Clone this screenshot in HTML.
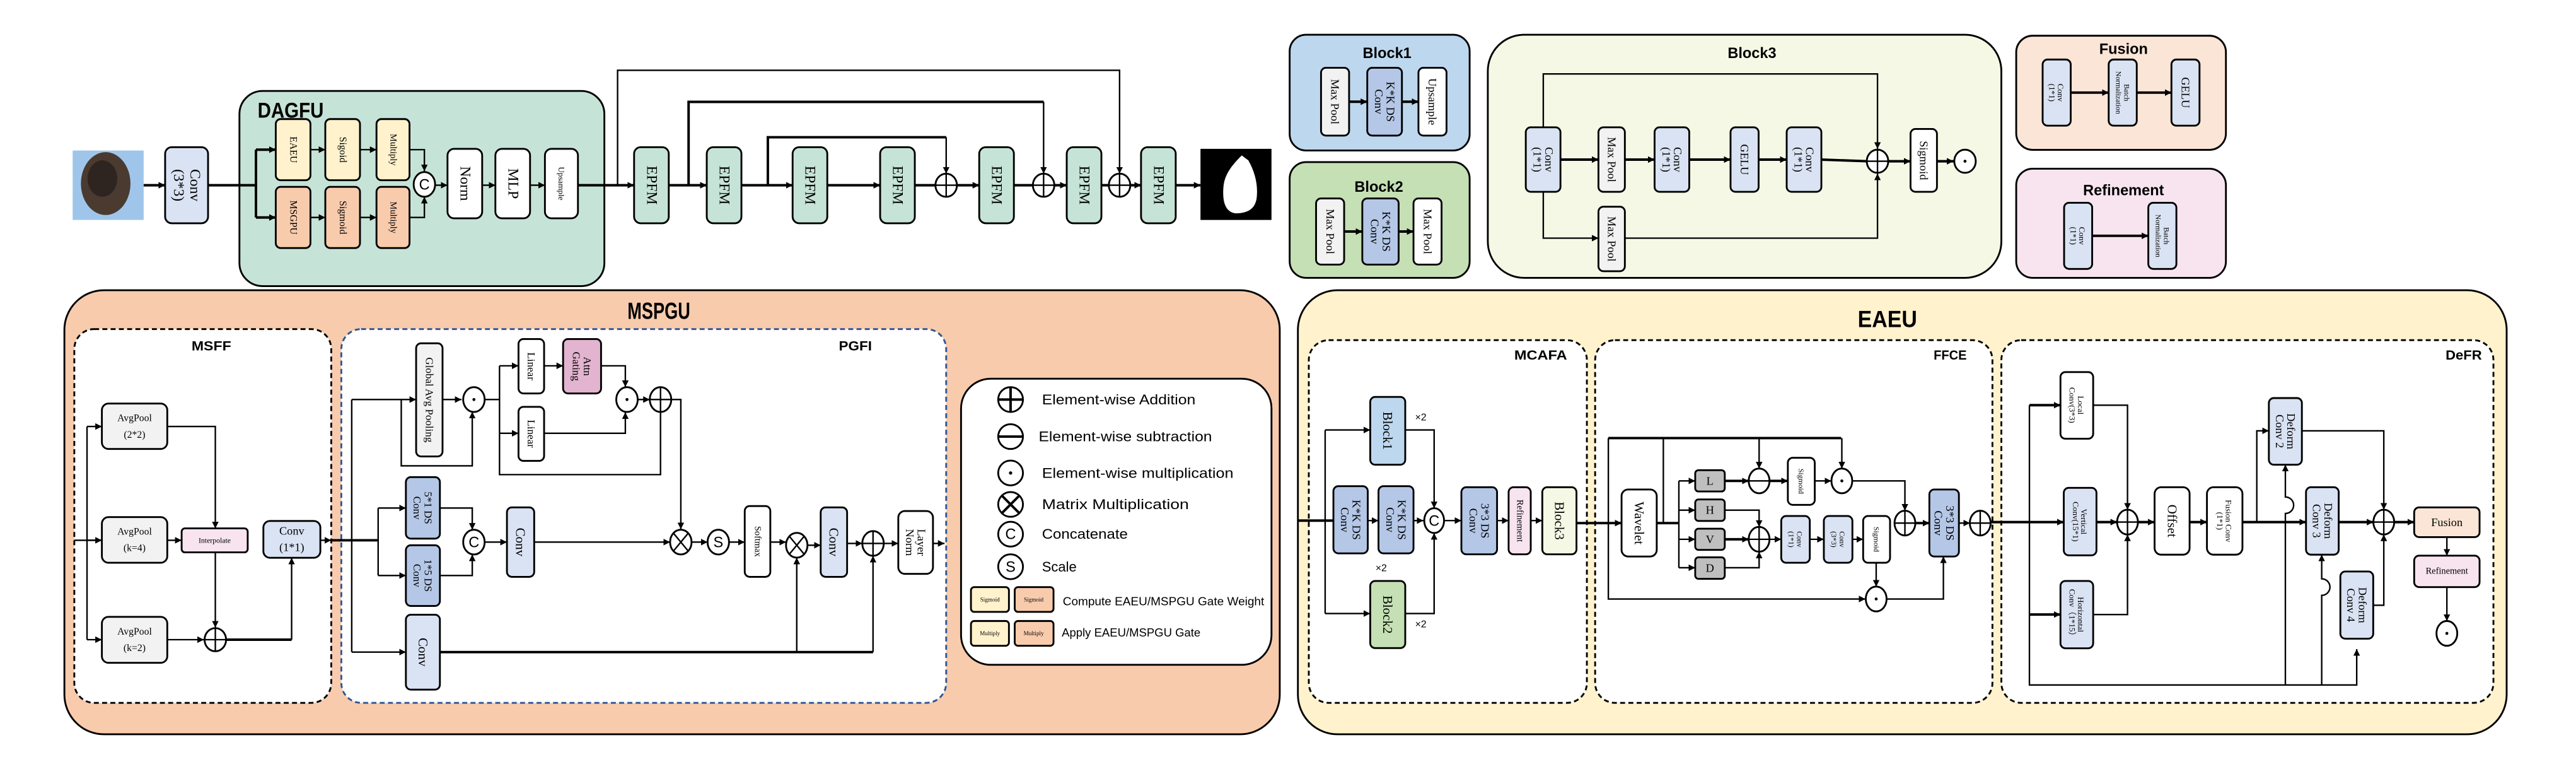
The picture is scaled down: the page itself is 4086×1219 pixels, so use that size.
<!DOCTYPE html>
<html><head><meta charset="utf-8"><style>
html,body{margin:0;padding:0;background:#fff}
svg{display:block}
.t{font-family:"Liberation Serif",serif;text-anchor:middle;dominant-baseline:central;fill:#000}
.h{font-family:"Liberation Sans",sans-serif;font-weight:bold;text-anchor:middle;dominant-baseline:central;fill:#000}
.s{font-family:"Liberation Sans",sans-serif;dominant-baseline:central;fill:#000}
.b{stroke:#000;stroke-width:1.1}
.l{stroke:#000;stroke-width:0.9;fill:none}
.L{stroke:#000;stroke-width:1.5;fill:none}
</style></head><body>
<svg width="4086" height="1219" viewBox="0 0 1560 465" preserveAspectRatio="none" xmlns="http://www.w3.org/2000/svg">
<defs>
<marker id="a" viewBox="0 0 10 10" refX="10" refY="5" markerWidth="4" markerHeight="4" markerUnits="userSpaceOnUse" orient="auto"><path d="M0,0L10,5L0,10z" fill="#000"/></marker>
</defs>

<!-- ================= TOP ROW ================= -->
<rect x="44" y="91" width="43" height="42" fill="#9fc6ea"/>
<ellipse cx="64" cy="111" rx="15" ry="19" fill="#4a3a30"/>
<ellipse cx="62" cy="108" rx="9" ry="11" fill="#2e2520"/>

<rect x="145" y="55" width="221" height="118" rx="14" fill="#c6e3d7" class="b"/>
<text class="h" x="176" y="67" font-size="13" textLength="40" lengthAdjust="spacingAndGlyphs">DAGFU</text>

<path class="L" d="M87,112H100" marker-end="url(#a)"/>
<rect x="100" y="89" width="26" height="46" rx="4" fill="#dae3f3" class="b"/>
<text class="t" font-size="9" transform="translate(113 112) rotate(90)"><tspan x="0" dy="-5">Conv</tspan><tspan x="0" dy="10">(3*3)</tspan></text>
<path class="L" d="M126,112H145"/>
<path class="L" d="M145,112H155M155,90.5V131.5"/>
<path class="L" d="M155,90.5H167" marker-end="url(#a)"/>
<path class="L" d="M155,131.5H167" marker-end="url(#a)"/>

<rect x="167" y="72" width="21" height="37" rx="3" fill="#fff2cc" class="b"/>
<text class="t" font-size="6" transform="translate(177.5 90.5) rotate(90)">EAEU</text>
<rect x="197" y="72" width="21" height="37" rx="3" fill="#fff2cc" class="b"/>
<text class="t" font-size="6" transform="translate(207.5 90.5) rotate(90)">Sigoid</text>
<rect x="228" y="72" width="20" height="37" rx="3" fill="#fff2cc" class="b"/>
<text class="t" font-size="5.5" transform="translate(238 90.5) rotate(90)">Multiply</text>
<rect x="167" y="113" width="21" height="37" rx="3" fill="#f8cbad" class="b"/>
<text class="t" font-size="6" transform="translate(177.5 131.5) rotate(90)">MSGPU</text>
<rect x="197" y="113" width="21" height="37" rx="3" fill="#f8cbad" class="b"/>
<text class="t" font-size="6" transform="translate(207.5 131.5) rotate(90)">Sigmoid</text>
<rect x="228" y="113" width="20" height="37" rx="3" fill="#f8cbad" class="b"/>
<text class="t" font-size="5.5" transform="translate(238 131.5) rotate(90)">Multiply</text>
<path class="l" d="M188,90.5H197" marker-end="url(#a)"/><path class="l" d="M218,90.5H228" marker-end="url(#a)"/>
<path class="l" d="M188,131.5H197" marker-end="url(#a)"/><path class="l" d="M218,131.5H228" marker-end="url(#a)"/>
<path class="l" d="M248,90.5H257V103.5" marker-end="url(#a)"/>
<path class="l" d="M248,131.5H257V119" marker-end="url(#a)"/>
<ellipse cx="257" cy="111.5" rx="6.5" ry="7.5" fill="#fff" class="b"/>
<text class="s" x="257" y="111.5" font-size="9" text-anchor="middle">C</text>
<path class="l" d="M263.5,112H271" marker-end="url(#a)"/>
<rect x="271" y="90" width="21" height="42" rx="4" fill="#fff" class="b"/>
<text class="t" font-size="9" transform="translate(281.5 111) rotate(90)">Norm</text>
<path class="l" d="M292,112H300" marker-end="url(#a)"/>
<rect x="300" y="90" width="21" height="42" rx="4" fill="#fff" class="b"/>
<text class="t" font-size="9" transform="translate(310.5 111) rotate(90)">MLP</text>
<path class="l" d="M321,112H330" marker-end="url(#a)"/>
<rect x="330" y="90" width="20" height="42" rx="4" fill="#fff" class="b"/>
<text class="t" font-size="5" transform="translate(340 111) rotate(90)">Upsample</text>
<path class="L" d="M350,112H384" marker-end="url(#a)"/>

<!-- skips -->
<path class="l" d="M374,112V42.5H678V105" marker-end="url(#a)"/>
<path class="L" d="M417,112V61.6H632" /><path class="l" d="M632,61.6V105" marker-end="url(#a)"/>
<path class="L" d="M465,112V83H573"/><path class="l" d="M573,83V105" marker-end="url(#a)"/>

<g fill="#c6e3d7">
<rect x="384" y="89" width="21" height="46" rx="4" class="b"/>
<rect x="428" y="89" width="21" height="46" rx="4" class="b"/>
<rect x="480" y="89" width="21" height="46" rx="4" class="b"/>
<rect x="533" y="89" width="21" height="46" rx="4" class="b"/>
<rect x="593" y="89" width="21" height="46" rx="4" class="b"/>
<rect x="646" y="89" width="21" height="46" rx="4" class="b"/>
<rect x="691" y="89" width="21" height="46" rx="4" class="b"/>
</g>
<g class="t" font-size="9">
<text transform="translate(394.5 112) rotate(90)">EPFM</text>
<text transform="translate(438.5 112) rotate(90)">EPFM</text>
<text transform="translate(490.5 112) rotate(90)">EPFM</text>
<text transform="translate(543.5 112) rotate(90)">EPFM</text>
<text transform="translate(603.5 112) rotate(90)">EPFM</text>
<text transform="translate(656.5 112) rotate(90)">EPFM</text>
<text transform="translate(701.5 112) rotate(90)">EPFM</text>
</g>
<path class="L" d="M405,112H428" marker-end="url(#a)"/>
<path class="L" d="M449,112H480" marker-end="url(#a)"/>
<path class="L" d="M501,112H533" marker-end="url(#a)"/>
<path class="L" d="M554,112H593" marker-end="url(#a)"/>
<path class="L" d="M614,112H646" marker-end="url(#a)"/>
<path class="L" d="M667,112H691" marker-end="url(#a)"/>
<path class="L" d="M712,112H727" marker-end="url(#a)"/>
<g class="b" fill="#fff">
<ellipse cx="573" cy="112" rx="6.5" ry="7"/><ellipse cx="632" cy="112" rx="6.5" ry="7"/><ellipse cx="678" cy="112" rx="6.5" ry="7"/>
</g>
<path class="l" d="M566.5,112H579.5M573,105V119M625.5,112H638.5M632,105V119M671.5,112H684.5M678,105V119"/>
<rect x="727" y="90" width="43" height="43" fill="#000"/>
<path d="M752,94C748,98 742,104 741,112C740,122 742,128 748,129C756,129 760,126 761,120C762,112 760,104 756,97Z" fill="#fff"/>

<!-- Block1 -->
<rect x="781" y="21" width="109" height="70" rx="10" fill="#bdd7ee" class="b"/>
<text class="h" x="840" y="32" font-size="9">Block1</text>
<rect x="800" y="41" width="17" height="41" rx="3" fill="#f2f2f2" class="b"/>
<text class="t" font-size="7" transform="translate(808.5 61.5) rotate(90)">Max Pool</text>
<rect x="828" y="41" width="21" height="41" rx="3" fill="#b4c7e7" class="b"/>
<text class="t" font-size="7" transform="translate(838.5 61.5) rotate(90)"><tspan x="0" dy="-3.5">K*K DS</tspan><tspan x="0" dy="7">Conv</tspan></text>
<rect x="859" y="41" width="17" height="41" rx="3" fill="#fff" class="b"/>
<text class="t" font-size="7" transform="translate(867.5 61.5) rotate(90)">Upsample</text>
<path class="L" d="M817,61.5H828" marker-end="url(#a)"/><path class="L" d="M849,61.5H859" marker-end="url(#a)"/>

<!-- Block2 -->
<rect x="781" y="98" width="109" height="70" rx="10" fill="#c5e0b4" class="b"/>
<text class="h" x="835" y="113" font-size="9">Block2</text>
<rect x="797" y="120" width="17" height="40" rx="3" fill="#f2f2f2" class="b"/>
<text class="t" font-size="7" transform="translate(805.5 140) rotate(90)">Max Pool</text>
<rect x="825" y="120" width="22" height="40" rx="3" fill="#b4c7e7" class="b"/>
<text class="t" font-size="7" transform="translate(836 140) rotate(90)"><tspan x="0" dy="-3.5">K*K DS</tspan><tspan x="0" dy="7">Conv</tspan></text>
<rect x="856" y="120" width="17" height="40" rx="3" fill="#fff" class="b"/>
<text class="t" font-size="7" transform="translate(864.5 140) rotate(90)">Max Pool</text>
<path class="L" d="M814,140H825" marker-end="url(#a)"/><path class="L" d="M847,140H856" marker-end="url(#a)"/>

<!-- Block3 -->
<rect x="901" y="21" width="311" height="147" rx="22" fill="#f5f8e4" class="b"/>
<text class="h" x="1061" y="32" font-size="9">Block3</text>
<path class="l" d="M934.6,77V44.7H1137V90" marker-end="url(#a)"/>
<path class="l" d="M934.6,116V144H968" marker-end="url(#a)"/>
<path class="l" d="M984,144H1137V105" marker-end="url(#a)"/>
<rect x="924" y="77" width="21" height="39" rx="3" fill="#dae3f3" class="b"/>
<text class="t" font-size="7" transform="translate(934.5 96.5) rotate(90)"><tspan x="0" dy="-3.5">Conv</tspan><tspan x="0" dy="7">(1*1)</tspan></text>
<rect x="968" y="77" width="16" height="39" rx="3" fill="#f2f2f2" class="b"/>
<text class="t" font-size="7" transform="translate(976 96.5) rotate(90)">Max Pool</text>
<rect x="1002" y="77" width="21" height="39" rx="3" fill="#dae3f3" class="b"/>
<text class="t" font-size="7" transform="translate(1012.5 96.5) rotate(90)"><tspan x="0" dy="-3.5">Conv</tspan><tspan x="0" dy="7">(1*1)</tspan></text>
<rect x="1048" y="77" width="17" height="39" rx="3" fill="#dae3f3" class="b"/>
<text class="t" font-size="7" transform="translate(1056.5 96.5) rotate(90)">GELU</text>
<rect x="1082" y="77" width="21" height="39" rx="3" fill="#dae3f3" class="b"/>
<text class="t" font-size="7" transform="translate(1092.5 96.5) rotate(90)"><tspan x="0" dy="-3.5">Conv</tspan><tspan x="0" dy="7">(1*1)</tspan></text>
<rect x="968" y="125" width="16" height="39" rx="3" fill="#f2f2f2" class="b"/>
<text class="t" font-size="7" transform="translate(976 144.5) rotate(90)">Max Pool</text>
<rect x="1157" y="78" width="16" height="38" rx="3" fill="#fff" class="b"/>
<text class="t" font-size="7" transform="translate(1165 97) rotate(90)">Sigmoid</text>
<path class="L" d="M945,96.5H968" marker-end="url(#a)"/>
<path class="L" d="M984,96.5H1002" marker-end="url(#a)"/>
<path class="L" d="M1023,96.5H1048" marker-end="url(#a)"/>
<path class="L" d="M1065,96.5H1082" marker-end="url(#a)"/>
<path class="L" d="M1103,96.5L1130.5,97.5"/>
<ellipse cx="1137" cy="97.5" rx="6.5" ry="7" fill="#fff" class="b"/>
<path class="l" d="M1130.5,97.5H1143.5M1137,90.5V104.5"/>
<path class="L" d="M1143.5,97.5H1157" marker-end="url(#a)"/>
<path class="L" d="M1173,97.5H1183" marker-end="url(#a)"/>
<ellipse cx="1190" cy="97.5" rx="6.5" ry="7" fill="#fff" class="b"/>
<circle cx="1190" cy="97.5" r="0.9" fill="#000"/>

<!-- Fusion -->
<rect x="1221" y="21.6" width="127" height="69" rx="10" fill="#fbe5d6" class="b"/>
<text class="h" x="1286" y="29.5" font-size="9">Fusion</text>
<rect x="1237" y="36" width="17" height="40" rx="3" fill="#dae3f3" class="b"/>
<text class="t" font-size="5" transform="translate(1245.5 56) rotate(90)"><tspan x="0" dy="-2.5">Conv</tspan><tspan x="0" dy="5">(1*1)</tspan></text>
<rect x="1277" y="36" width="17" height="40" rx="3" fill="#dae3f3" class="b"/>
<text class="t" font-size="4.5" transform="translate(1285.5 56) rotate(90)"><tspan x="0" dy="-2.5">Batch</tspan><tspan x="0" dy="5">Normalization</tspan></text>
<rect x="1315" y="36" width="17" height="40" rx="3" fill="#dae3f3" class="b"/>
<text class="t" font-size="7" transform="translate(1323.5 56) rotate(90)">GELU</text>
<path class="L" d="M1254,56H1277" marker-end="url(#a)"/><path class="L" d="M1294,56H1315" marker-end="url(#a)"/>

<!-- Refinement -->
<rect x="1221" y="102" width="127" height="66" rx="10" fill="#f8e4ef" class="b"/>
<text class="h" x="1286" y="115" font-size="9">Refinement</text>
<rect x="1250" y="122.6" width="17" height="40" rx="3" fill="#dae3f3" class="b"/>
<text class="t" font-size="5" transform="translate(1258.5 142.6) rotate(90)"><tspan x="0" dy="-2.5">Conv</tspan><tspan x="0" dy="5">(1*1)</tspan></text>
<rect x="1301" y="122.6" width="17" height="40" rx="3" fill="#dae3f3" class="b"/>
<text class="t" font-size="4.5" transform="translate(1309.5 142.6) rotate(90)"><tspan x="0" dy="-2.5">Batch</tspan><tspan x="0" dy="5">Normalization</tspan></text>
<path class="L" d="M1267,142.6H1301" marker-end="url(#a)"/>

<!-- ================= MSPGU ================= -->
<rect x="39" y="175.5" width="736" height="268.5" rx="24" fill="#f7cbac" class="b"/>
<text class="h" x="399" y="188" font-size="14" textLength="38" lengthAdjust="spacingAndGlyphs">MSPGU</text>

<rect x="45" y="199" width="155.6" height="226" rx="12" fill="#fff" stroke="#000" stroke-width="1.1" stroke-dasharray="3,2"/>
<text class="h" x="128" y="209.5" font-size="8" textLength="24" lengthAdjust="spacingAndGlyphs">MSFF</text>
<rect x="206.7" y="199" width="366.3" height="226" rx="12" fill="#fff" stroke="#2f5597" stroke-width="1.1" stroke-dasharray="3,2"/>
<text class="h" x="518" y="209.5" font-size="8" textLength="20" lengthAdjust="spacingAndGlyphs">PGFI</text>

<!-- MSFF -->
<path class="l" d="M45,326.7H61.7M52.7,257.9V386.8"/>
<path class="l" d="M52.7,257.9H61.7" marker-end="url(#a)"/>
<path class="l" d="M52.7,386.8H61.7" marker-end="url(#a)"/>
<path class="l" d="M52.7,326.7H61.7" marker-end="url(#a)"/>
<rect x="61.7" y="244" width="39.6" height="27.5" rx="4" fill="#f2f2f2" class="b"/>
<text class="t" font-size="6" x="81.5" y="253">AvgPool</text><text class="t" font-size="6" x="81.5" y="263">(2*2)</text>
<rect x="61.7" y="312.7" width="39.6" height="27.6" rx="4" fill="#f2f2f2" class="b"/>
<text class="t" font-size="6" x="81.5" y="321.5">AvgPool</text><text class="t" font-size="6" x="81.5" y="331.5">(k=4)</text>
<rect x="61.7" y="373" width="39.6" height="27.8" rx="4" fill="#f2f2f2" class="b"/>
<text class="t" font-size="6" x="81.5" y="382">AvgPool</text><text class="t" font-size="6" x="81.5" y="392">(k=2)</text>
<path class="l" d="M101.3,257.9H130.4V319.5" marker-end="url(#a)"/>
<path class="l" d="M101.3,326.7H110" marker-end="url(#a)"/>
<rect x="110" y="319.5" width="40" height="14.5" rx="2" fill="#f8e4ef" class="b"/>
<text class="t" font-size="4.5" x="130" y="326.7">Interpolate</text>
<path class="l" d="M130.4,334V379.5" marker-end="url(#a)"/>
<path class="l" d="M101.3,386.8H123.5" marker-end="url(#a)"/>
<ellipse cx="130.4" cy="386.8" rx="6.5" ry="7" fill="#fff" class="b"/>
<path class="l" d="M124,386.8H137M130.4,379.8V393.8"/>
<path class="L" d="M137,386.8H176.6"/><path class="l" d="M176.6,386.8V337.3" marker-end="url(#a)"/>
<rect x="159.5" y="315" width="34.5" height="22.3" rx="4" fill="#dae3f3" class="b"/>
<text class="t" font-size="7" x="176.7" y="321">Conv</text><text class="t" font-size="7" x="176.7" y="331">(1*1)</text>
<path class="l" d="M194,326.7H200.6" marker-end="url(#a)"/>

<!-- PGFI -->
<path class="L" d="M200.6,326.7H229"/>
<path class="l" d="M213,241.6V394.3"/>
<path class="l" d="M213,241.6H252" marker-end="url(#a)"/>
<rect x="252" y="207.6" width="16" height="68.4" rx="3" fill="#f2f2f2" class="b"/>
<text class="t" font-size="6.5" transform="translate(260 241.8) rotate(90)">Global Avg Pooling</text>
<path class="l" d="M243,241.6V281.7H286V249" marker-end="url(#a)"/>
<path class="l" d="M268,241.6H279.5" marker-end="url(#a)"/>
<ellipse cx="287" cy="241.6" rx="6.5" ry="7.5" fill="#fff" class="b"/><circle cx="287" cy="241.6" r="0.9" fill="#000"/>
<path class="l" d="M293.5,241.6H302.5M302.5,221.2V287H400V249"/>
<path class="l" d="M302.5,221.2H314" marker-end="url(#a)"/>
<path class="l" d="M302.5,262H314" marker-end="url(#a)"/>
<rect x="314" y="205" width="15.5" height="32.9" rx="3" fill="#fff" class="b"/>
<text class="t" font-size="6.5" transform="translate(321.75 221.5) rotate(90)">Linear</text>
<rect x="314" y="246" width="15.5" height="32.7" rx="3" fill="#fff" class="b"/>
<text class="t" font-size="6.5" transform="translate(321.75 262.3) rotate(90)">Linear</text>
<path class="l" d="M329.5,221.2H341" marker-end="url(#a)"/>
<rect x="341" y="205" width="23" height="32.9" rx="3" fill="#e2b4cf" class="b"/>
<text class="t" font-size="6.5" transform="translate(352.5 221.5) rotate(90)"><tspan x="0" dy="-3.3">Attn</tspan><tspan x="0" dy="6.6">Gating</tspan></text>
<path class="l" d="M364,221.2H378.7V234" marker-end="url(#a)"/>
<path class="l" d="M329.5,262H378.7V249.3" marker-end="url(#a)"/>
<ellipse cx="379.7" cy="241.6" rx="6.5" ry="7.5" fill="#fff" class="b"/><circle cx="379.7" cy="241.6" r="0.9" fill="#000"/>
<path class="l" d="M386.2,241.6H393.5" marker-end="url(#a)"/>
<ellipse cx="400" cy="241.6" rx="6.5" ry="7.5" fill="#fff" class="b"/>
<path class="l" d="M393.5,241.6H406.5M400,234.1V249.1"/>
<path class="l" d="M406.5,241.6H412.3V320" marker-end="url(#a)"/>

<path class="l" d="M229,307.2V348"/>
<path class="l" d="M229,307.2H245.8" marker-end="url(#a)"/>
<path class="l" d="M229,348H245.8" marker-end="url(#a)"/>
<rect x="245.8" y="288.5" width="20.6" height="37.2" rx="3" fill="#b4c7e7" class="b"/>
<text class="t" font-size="6.5" transform="translate(256.1 307.1) rotate(90)"><tspan x="0" dy="-3.3">5*1 DS</tspan><tspan x="0" dy="6.6">Conv</tspan></text>
<rect x="245.8" y="329.7" width="20.6" height="36.7" rx="3" fill="#b4c7e7" class="b"/>
<text class="t" font-size="6.5" transform="translate(256.1 348) rotate(90)"><tspan x="0" dy="-3.3">1*5 DS</tspan><tspan x="0" dy="6.6">Conv</tspan></text>
<path class="l" d="M266.4,307.2H286V320.3" marker-end="url(#a)"/>
<path class="l" d="M266.4,348H286V335.3" marker-end="url(#a)"/>
<ellipse cx="287" cy="327.8" rx="6.5" ry="7.5" fill="#fff" class="b"/>
<text class="s" x="287" y="327.8" font-size="9" text-anchor="middle">C</text>
<path class="l" d="M293.5,327.8H307" marker-end="url(#a)"/>
<rect x="307" y="306.8" width="16.5" height="42" rx="3" fill="#dae3f3" class="b"/>
<text class="t" font-size="8" transform="translate(315.25 327.8) rotate(90)">Conv</text>
<path class="l" d="M323.5,327.8H405.8" marker-end="url(#a)"/>
<path class="l" d="M213,394.3H245.8" marker-end="url(#a)"/>
<rect x="245.8" y="371.7" width="20.6" height="45.3" rx="3" fill="#dae3f3" class="b"/>
<text class="t" font-size="8" transform="translate(256.1 394.3) rotate(90)">Conv</text>
<path class="L" d="M266.4,394.3H528.7"/>
<path class="l" d="M482.5,394.3V337.2" marker-end="url(#a)"/>
<path class="l" d="M528.7,394.3V336.1" marker-end="url(#a)"/>

<ellipse cx="412.3" cy="327.8" rx="6.5" ry="7.5" fill="#fff" class="b"/>
<path class="l" d="M407.9,322.5L416.7,333.1M416.7,322.5L407.9,333.1"/>
<path class="l" d="M418.8,327.8H428.5" marker-end="url(#a)"/>
<ellipse cx="435" cy="327.8" rx="6.5" ry="7.5" fill="#fff" class="b"/>
<text class="s" x="435" y="327.8" font-size="9" text-anchor="middle">S</text>
<path class="l" d="M441.5,327.8H451" marker-end="url(#a)"/>
<rect x="451" y="306" width="15.5" height="42.8" rx="3" fill="#fff" class="b"/>
<text class="t" font-size="5.5" transform="translate(458.75 327.4) rotate(90)">Softmax</text>
<path class="l" d="M466.5,327.8H476" marker-end="url(#a)"/>
<ellipse cx="482.5" cy="329.7" rx="6.5" ry="7.5" fill="#fff" class="b"/>
<path class="l" d="M478.1,324.4L486.9,335M486.9,324.4L478.1,335"/>
<path class="l" d="M489,329.7H497" marker-end="url(#a)"/>
<rect x="497" y="306.8" width="16" height="42" rx="3" fill="#dae3f3" class="b"/>
<text class="t" font-size="8" transform="translate(505 327.8) rotate(90)">Conv</text>
<path class="l" d="M513,328.6H522.2" marker-end="url(#a)"/>
<ellipse cx="528.7" cy="328.6" rx="6.5" ry="7.5" fill="#fff" class="b"/>
<path class="l" d="M522.2,328.6H535.2M528.7,321.1V336.1"/>
<path class="l" d="M535.2,328.6H544" marker-end="url(#a)"/>
<rect x="544" y="309" width="21" height="38" rx="4" fill="#fff" class="b"/>
<text class="t" font-size="7" transform="translate(554.5 328) rotate(90)"><tspan x="0" dy="-3.5">Layer</tspan><tspan x="0" dy="7">Norm</tspan></text>
<path class="l" d="M565,328.6H572" marker-end="url(#a)"/>

<!-- Legend -->
<rect x="582" y="229" width="188" height="173" rx="18" fill="#fff" class="b"/>
<g class="b" fill="#fff">
<ellipse cx="612" cy="241.6" rx="7.5" ry="7.5"/><ellipse cx="612" cy="264" rx="7.5" ry="7.5"/><ellipse cx="612" cy="286" rx="7.5" ry="7.5"/>
<ellipse cx="612" cy="305" rx="7.5" ry="7.5"/><ellipse cx="612" cy="323" rx="7.5" ry="7.5"/><ellipse cx="612" cy="342.7" rx="7.5" ry="7.5"/>
</g>
<path class="L" d="M604.5,241.6H619.5M612,234.1V249.1M604.5,264H619.5M606.7,299.7L617.3,310.3M617.3,299.7L606.7,310.3"/>
<circle cx="612" cy="286" r="1" fill="#000"/>
<text class="s" x="612" y="323" font-size="9" text-anchor="middle">C</text>
<text class="s" x="612" y="342.7" font-size="9" text-anchor="middle">S</text>
<g class="s" font-size="8.5">
<text x="631" y="241.6" textLength="93" lengthAdjust="spacingAndGlyphs">Element-wise Addition</text>
<text x="629" y="264" textLength="105" lengthAdjust="spacingAndGlyphs">Element-wise subtraction</text>
<text x="631" y="286" textLength="116" lengthAdjust="spacingAndGlyphs">Element-wise multiplication</text>
<text x="631" y="305" textLength="89" lengthAdjust="spacingAndGlyphs">Matrix  Multiplication</text>
<text x="631" y="323" textLength="52" lengthAdjust="spacingAndGlyphs">Concatenate</text>
<text x="631" y="342.7" textLength="21" lengthAdjust="spacingAndGlyphs">Scale</text>
</g>
<rect x="588" y="355" width="23" height="15" rx="2" fill="#fff2cc" class="b"/>
<rect x="614.5" y="355" width="23.5" height="15" rx="2" fill="#f8cbad" class="b"/>
<text class="t" font-size="3.5" x="599.5" y="362.5">Sigmoid</text><text class="t" font-size="3.5" x="626" y="362.5">Sigmoid</text>
<rect x="588" y="375.5" width="23" height="15" rx="2" fill="#fff2cc" class="b"/>
<rect x="614.5" y="375.5" width="23.5" height="15" rx="2" fill="#f8cbad" class="b"/>
<text class="t" font-size="3.5" x="599.5" y="383">Multiply</text><text class="t" font-size="3.5" x="626" y="383">Multiply</text>
<text class="s" x="643.6" y="363.5" font-size="7" textLength="122" lengthAdjust="spacingAndGlyphs">Compute EAEU/MSPGU Gate Weight</text>
<text class="s" x="643" y="382.5" font-size="7" textLength="84" lengthAdjust="spacingAndGlyphs">Apply EAEU/MSPGU Gate</text>

<!-- ================= EAEU ================= -->
<rect x="786" y="175.5" width="732" height="268.5" rx="24" fill="#fff2cc" class="b"/>
<text class="h" x="1143" y="193" font-size="14" textLength="36" lengthAdjust="spacingAndGlyphs">EAEU</text>
<rect x="792.6" y="205.7" width="168.4" height="219.3" rx="12" fill="#fff" stroke="#000" stroke-width="1.1" stroke-dasharray="3,2"/>
<text class="h" x="933" y="215" font-size="8" textLength="32" lengthAdjust="spacingAndGlyphs">MCAFA</text>
<rect x="966" y="205.7" width="240.6" height="219.3" rx="12" fill="#fff" stroke="#000" stroke-width="1.1" stroke-dasharray="3,2"/>
<text class="h" x="1181" y="215" font-size="8" textLength="20" lengthAdjust="spacingAndGlyphs">FFCE</text>
<rect x="1212" y="205.7" width="298" height="219.3" rx="12" fill="#fff" stroke="#000" stroke-width="1.1" stroke-dasharray="3,2"/>
<text class="h" x="1492" y="215" font-size="8" textLength="22" lengthAdjust="spacingAndGlyphs">DeFR</text>

<!-- MCAFA -->
<path class="L" d="M786,314.8H807.5"/>
<path class="l" d="M802.5,260V371"/>
<path class="l" d="M802.5,260H829.8" marker-end="url(#a)"/>
<path class="l" d="M802.5,371H829.8" marker-end="url(#a)"/>
<rect x="829.8" y="240" width="21.2" height="41" rx="3" fill="#bdd7ee" class="b"/>
<text class="t" font-size="8" transform="translate(840.4 260.5) rotate(90)">Block1</text>
<text class="s" x="857" y="252.6" font-size="6">×2</text>
<rect x="807.5" y="294" width="20.8" height="40.6" rx="3" fill="#b4c7e7" class="b"/>
<text class="t" font-size="7" transform="translate(817.9 314.3) rotate(90)"><tspan x="0" dy="-3.5">K*K DS</tspan><tspan x="0" dy="7">Conv</tspan></text>
<rect x="834.8" y="294" width="21.2" height="40.6" rx="3" fill="#b4c7e7" class="b"/>
<text class="t" font-size="7" transform="translate(845.4 314.3) rotate(90)"><tspan x="0" dy="-3.5">K*K DS</tspan><tspan x="0" dy="7">Conv</tspan></text>
<path class="l" d="M828.3,314.8H834.8" marker-end="url(#a)"/>
<path class="l" d="M856,314.8H862" marker-end="url(#a)"/>
<rect x="829.8" y="351.3" width="21.2" height="40.6" rx="3" fill="#c5e0b4" class="b"/>
<text class="t" font-size="8" transform="translate(840.4 371.6) rotate(90)">Block2</text>
<text class="s" x="833" y="343.7" font-size="6">×2</text>
<text class="s" x="857" y="377.7" font-size="6">×2</text>
<path class="l" d="M851,260H868.5V307.3" marker-end="url(#a)"/>
<path class="l" d="M851,371H868.5V322.3" marker-end="url(#a)"/>
<ellipse cx="868.5" cy="314.8" rx="6" ry="7.5" fill="#fff" class="b"/>
<text class="s" x="868.5" y="314.8" font-size="9" text-anchor="middle">C</text>
<path class="l" d="M874.5,314.8H885" marker-end="url(#a)"/>
<rect x="885" y="294.6" width="21.6" height="40.6" rx="3" fill="#b4c7e7" class="b"/>
<text class="t" font-size="7" transform="translate(895.8 314.9) rotate(90)"><tspan x="0" dy="-3.5">3*3 DS</tspan><tspan x="0" dy="7">Conv</tspan></text>
<path class="l" d="M906.6,314.8H913.6" marker-end="url(#a)"/>
<rect x="913.6" y="294.6" width="13.4" height="40.6" rx="3" fill="#f8e4ef" class="b"/>
<text class="t" font-size="5.5" transform="translate(920.3 314.9) rotate(90)">Refinement</text>
<path class="l" d="M927,314.8H934" marker-end="url(#a)"/>
<rect x="934" y="294.6" width="20.7" height="40.6" rx="3" fill="#f5f8e4" class="b"/>
<text class="t" font-size="8" transform="translate(944.35 314.9) rotate(90)">Block3</text>
<path class="L" d="M954.7,316.3H982" marker-end="url(#a)"/>

<!-- FFCE -->
<path class="L" d="M974,264.9H1115"/>
<path class="l" d="M974,264.9V362.2H1129.7" marker-end="url(#a)"/>
<rect x="982" y="296" width="21.3" height="40.5" rx="4" fill="#fff" class="b"/>
<text class="t" font-size="8" transform="translate(992.65 316.3) rotate(90)">Wavelet</text>
<path class="L" d="M1003.3,316.3H1016.7"/>
<path class="l" d="M1007.3,316.3V264.9"/>
<path class="l" d="M1016.7,290.8V343.3"/>
<path class="l" d="M1016.7,290.8H1026.6" marker-end="url(#a)"/>
<path class="l" d="M1016.7,308.5H1026.6" marker-end="url(#a)"/>
<path class="l" d="M1016.7,326.1H1026.6" marker-end="url(#a)"/>
<path class="l" d="M1016.7,343.3H1026.6" marker-end="url(#a)"/>
<g fill="#bfbfbf" class="b">
<rect x="1026.6" y="284.3" width="17.9" height="12.9" rx="2"/>
<rect x="1026.6" y="302" width="17.9" height="13" rx="2"/>
<rect x="1026.6" y="319.7" width="17.9" height="12.8" rx="2"/>
<rect x="1026.6" y="337" width="17.9" height="13" rx="2"/>
</g>
<g class="t" font-size="7"><text x="1035.5" y="290.8">L</text><text x="1035.5" y="308.5">H</text><text x="1035.5" y="326.1">V</text><text x="1035.5" y="343.5">D</text></g>
<path class="L" d="M1044.5,290.8H1059" marker-end="url(#a)"/>
<path class="l" d="M1065.3,264.9V283.3" marker-end="url(#a)"/>
<ellipse cx="1065.3" cy="290.8" rx="6.3" ry="7.5" fill="#fff" class="b"/>
<path class="l" d="M1059,290.8H1071.6"/>
<path class="L" d="M1071.6,290.8H1082.7" marker-end="url(#a)"/>
<rect x="1082.7" y="276.8" width="16.3" height="28.5" rx="3" fill="#fff" class="b"/>
<text class="t" font-size="4.5" transform="translate(1090.85 291) rotate(90)">Sigmoid</text>
<path class="l" d="M1099,290.8H1109" marker-end="url(#a)"/>
<path class="l" d="M1115.4,264.9V283.3" marker-end="url(#a)"/>
<ellipse cx="1115.4" cy="290.8" rx="6.3" ry="7.5" fill="#fff" class="b"/><circle cx="1115.4" cy="290.8" r="0.9" fill="#000"/>
<path class="l" d="M1121.7,290.8H1153.6V308.8" marker-end="url(#a)"/>
<path class="l" d="M1044.5,308.5H1065.3V318.6" marker-end="url(#a)"/>
<path class="l" d="M1044.5,343.3H1065.3V333.6" marker-end="url(#a)"/>
<path class="L" d="M1044.5,326.1H1059" marker-end="url(#a)"/>
<ellipse cx="1065.3" cy="326.1" rx="6.3" ry="7.5" fill="#fff" class="b"/>
<path class="l" d="M1059,326.1H1071.6M1065.3,318.6V333.6"/>
<path class="l" d="M1071.6,326.1H1078.7" marker-end="url(#a)"/>
<rect x="1078.7" y="312" width="17.3" height="28.3" rx="3" fill="#dae3f3" class="b"/>
<text class="t" font-size="4.5" transform="translate(1087.35 326.1) rotate(90)"><tspan x="0" dy="-2.5">Conv</tspan><tspan x="0" dy="5">(1*1)</tspan></text>
<path class="l" d="M1096,326.1H1104.5" marker-end="url(#a)"/>
<rect x="1104.5" y="312" width="17.3" height="28.3" rx="3" fill="#dae3f3" class="b"/>
<text class="t" font-size="4.5" transform="translate(1113.15 326.1) rotate(90)"><tspan x="0" dy="-2.5">Conv</tspan><tspan x="0" dy="5">(3*3)</tspan></text>
<path class="l" d="M1121.8,326.1H1128.3" marker-end="url(#a)"/>
<rect x="1128.3" y="312" width="16.3" height="28.3" rx="3" fill="#fff" class="b"/>
<text class="t" font-size="4.5" transform="translate(1136.45 326.1) rotate(90)">Sigmoid</text>
<path class="l" d="M1136.2,340.3V354.7" marker-end="url(#a)"/>
<ellipse cx="1136.2" cy="362.2" rx="6.3" ry="7.5" fill="#fff" class="b"/><circle cx="1136.2" cy="362.2" r="0.9" fill="#000"/>
<path class="l" d="M1142.5,362.2H1176.9V336.5" marker-end="url(#a)"/>
<ellipse cx="1153.6" cy="316.3" rx="6.3" ry="7.5" fill="#fff" class="b"/>
<path class="l" d="M1147.3,316.3H1159.9M1153.6,308.8V323.8"/>
<path class="L" d="M1159.9,316.3H1168.4" marker-end="url(#a)"/>
<rect x="1168.4" y="296" width="17.9" height="40.5" rx="3" fill="#b4c7e7" class="b"/>
<text class="t" font-size="7" transform="translate(1177.35 316.3) rotate(90)"><tspan x="0" dy="-3.5">3*3 DS</tspan><tspan x="0" dy="7">Conv</tspan></text>
<path class="l" d="M1186.3,316.3H1193" marker-end="url(#a)"/>
<ellipse cx="1199.2" cy="316.3" rx="6.3" ry="7.5" fill="#fff" class="b"/>
<path class="l" d="M1192.9,316.3H1205.5M1199.2,308.8V323.8"/>

<!-- DeFR -->
<path class="L" d="M1205.5,315.7H1249.8" marker-end="url(#a)"/>
<path class="l" d="M1229,245V414.2H1427.2V392.5" marker-end="url(#a)"/>
<path class="L" d="M1229,245H1247.8" marker-end="url(#a)"/>
<path class="L" d="M1229,371.6H1247.8" marker-end="url(#a)"/>
<rect x="1247.8" y="225" width="19.8" height="40.3" rx="3" fill="#fff" class="b"/>
<text class="t" font-size="5" transform="translate(1257.7 245) rotate(90)"><tspan x="0" dy="-2.5">Local</tspan><tspan x="0" dy="5">Conv(3*3)</tspan></text>
<rect x="1249.8" y="295" width="19.8" height="40.8" rx="3" fill="#dae3f3" class="b"/>
<text class="t" font-size="5" transform="translate(1259.7 315.4) rotate(90)"><tspan x="0" dy="-2.5">Vertical</tspan><tspan x="0" dy="5">Conv(15*1)</tspan></text>
<rect x="1247.8" y="351.3" width="19.8" height="40.7" rx="3" fill="#dae3f3" class="b"/>
<text class="t" font-size="5" transform="translate(1257.7 371.6) rotate(90)"><tspan x="0" dy="-2.5">Horizontal</tspan><tspan x="0" dy="5">Conv（1*15）</tspan></text>
<path class="l" d="M1267.6,245H1288.4V308.2" marker-end="url(#a)"/>
<path class="l" d="M1267.6,371.6H1288.4V323.2" marker-end="url(#a)"/>
<path class="L" d="M1269.6,315.7H1282.1" marker-end="url(#a)"/>
<ellipse cx="1288.4" cy="315.7" rx="6.3" ry="7.5" fill="#fff" class="b"/>
<path class="l" d="M1282.1,315.7H1294.7M1288.4,308.2V323.2"/>
<path class="L" d="M1294.7,315.7H1304.8" marker-end="url(#a)"/>
<rect x="1304.8" y="294.6" width="21.2" height="40.8" rx="4" fill="#fff" class="b"/>
<text class="t" font-size="8" transform="translate(1315.4 315) rotate(90)">Offset</text>
<path class="L" d="M1326,315.7H1336.5" marker-end="url(#a)"/>
<rect x="1336.5" y="294.6" width="21.5" height="40.8" rx="4" fill="#fff" class="b"/>
<text class="t" font-size="5" transform="translate(1347.25 315) rotate(90)"><tspan x="0" dy="-2.5">Fusion Conv</tspan><tspan x="0" dy="5">(1*1)</tspan></text>
<path class="L" d="M1358,315.7H1396.5" marker-end="url(#a)"/>
<path class="l" d="M1366.7,315.7V260.5H1374" marker-end="url(#a)"/>
<rect x="1374" y="240.7" width="20" height="40.3" rx="3" fill="#dae3f3" class="b"/>
<text class="t" font-size="7" transform="translate(1384 260.8) rotate(90)"><tspan x="0" dy="-3.5">Deform</tspan><tspan x="0" dy="7">Conv 2</tspan></text>
<rect x="1396.5" y="294.6" width="19.8" height="40.8" rx="3" fill="#dae3f3" class="b"/>
<text class="t" font-size="7" transform="translate(1406.4 315) rotate(90)"><tspan x="0" dy="-3.5">Deform</tspan><tspan x="0" dy="7">Conv 3</tspan></text>
<rect x="1417.3" y="345.6" width="19.9" height="40.6" rx="3" fill="#dae3f3" class="b"/>
<text class="t" font-size="7" transform="translate(1427.25 365.9) rotate(90)"><tspan x="0" dy="-3.5">Deform</tspan><tspan x="0" dy="7">Conv 4</tspan></text>
<path class="l" d="M1384,414.2V310.5A5,5 0 0 0 1384,300.5V281" marker-end="url(#a)"/>
<path class="l" d="M1406,414.2V360A5,5 0 0 0 1406,350V335.4" marker-end="url(#a)"/>
<path class="l" d="M1394,260.5H1443.6V308.2" marker-end="url(#a)"/>
<path class="l" d="M1437.2,366H1443.6V323.2" marker-end="url(#a)"/>
<path class="L" d="M1416.3,315.7H1437.3" marker-end="url(#a)"/>
<ellipse cx="1443.6" cy="315.7" rx="6.3" ry="7.5" fill="#fff" class="b"/>
<path class="l" d="M1437.3,315.7H1449.9M1443.6,308.2V323.2"/>
<path class="L" d="M1449.9,315.7H1462" marker-end="url(#a)"/>
<rect x="1462" y="306.8" width="39.6" height="18" rx="3" fill="#fbe5d6" class="b"/>
<text class="t" font-size="7" x="1481.8" y="315.8">Fusion</text>
<path class="l" d="M1481.8,324.8V336" marker-end="url(#a)"/>
<rect x="1462" y="336" width="39.6" height="19" rx="3" fill="#f8e4ef" class="b"/>
<text class="t" font-size="5.5" x="1481.8" y="345.5">Refinement</text>
<path class="l" d="M1481.8,355V375.5" marker-end="url(#a)"/>
<ellipse cx="1481.8" cy="383" rx="6.3" ry="7.5" fill="#fff" class="b"/><circle cx="1481.8" cy="383" r="0.9" fill="#000"/>
</svg>
</body></html>
